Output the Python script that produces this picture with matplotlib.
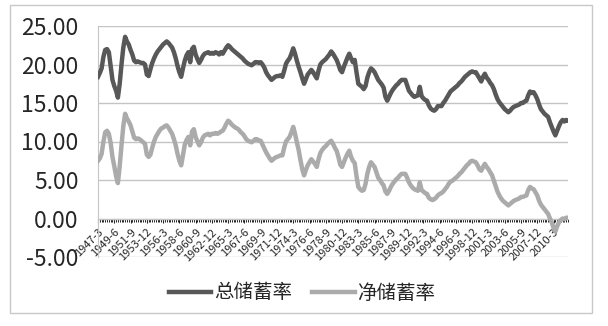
import numpy as np
import matplotlib as mpl
import matplotlib.pyplot as plt
from matplotlib.patches import Rectangle
from matplotlib.ticker import MultipleLocator

# ---------------- data (quarterly, 1947Q1 .. 2012Q1) ----------------
gross = [
    18.4, 18.9, 19.5, 21.0, 21.9, 22.0, 21.6, 19.8, 18.0, 17.2,
    16.6, 15.7, 17.5, 20.0, 22.2, 23.6, 23.0, 22.6, 21.9, 21.3,
    20.5, 20.3, 20.4, 20.3, 20.2, 20.2, 20.0, 18.7, 18.5, 19.4,
    20.2, 20.8, 21.3, 21.7, 22.0, 22.3, 22.6, 22.8, 23.0, 22.8,
    22.5, 22.2, 21.6, 20.8, 19.8, 19.0, 18.4, 19.5, 20.5, 21.2,
    21.6, 20.3, 22.0, 22.3, 21.3, 20.7, 20.2, 20.6, 21.1, 21.4,
    21.5, 21.6, 21.4, 21.5, 21.4, 21.6, 21.5, 21.3, 21.6, 21.4,
    21.8, 22.2, 22.5, 22.3, 22.0, 21.8, 21.6, 21.4, 21.2, 21.0,
    20.8, 20.5, 20.3, 20.1, 20.0, 19.9, 20.1, 20.3, 20.3, 20.2,
    20.3, 20.0, 19.6, 19.0, 18.6, 18.3, 18.0, 18.2, 18.4, 18.5,
    18.5, 18.6, 18.4, 19.2, 20.1, 20.5, 20.8, 21.4, 22.1, 21.4,
    20.5, 19.7, 19.0, 18.2, 17.5, 18.1, 18.7, 19.0, 19.3, 19.0,
    18.6, 18.2, 19.2, 20.0, 20.3, 20.5, 20.7, 21.0, 21.3, 21.7,
    21.4, 21.0, 20.6, 20.0, 19.3, 19.0, 19.7, 20.3, 20.9, 21.4,
    20.8, 20.3, 20.6, 19.0, 17.5, 17.3, 17.1, 16.8, 17.2, 18.3,
    19.0, 19.5, 19.3, 19.0, 18.5, 18.0, 17.7, 17.4, 17.0, 15.8,
    15.3, 15.8, 16.3, 16.7, 17.0, 17.3, 17.5, 17.8, 18.0, 18.0,
    18.0, 17.3, 16.6, 16.3, 16.0, 15.8, 15.9, 16.0, 17.1, 15.9,
    15.6, 15.4, 15.3, 14.7, 14.3, 14.1, 14.0, 14.2, 14.6, 14.6,
    14.6, 15.0, 15.3, 15.7, 16.1, 16.5, 16.7, 16.9, 17.1, 17.3,
    17.6, 17.8, 18.1, 18.4, 18.6, 18.8, 19.0, 19.1, 19.0, 19.0,
    18.6, 18.2, 17.8, 18.4, 18.8, 18.3, 18.0, 17.6, 17.3, 16.8,
    16.1, 15.5, 15.1, 14.8, 14.5, 14.2, 14.0, 13.8, 14.0, 14.3,
    14.5, 14.6, 14.7, 14.8, 15.0, 15.0, 15.2, 15.3, 16.0, 16.5,
    16.3, 16.4, 16.0, 15.5, 14.8, 14.2, 13.9, 13.6, 13.4, 13.2,
    12.5, 11.9, 11.3, 10.8, 11.4, 12.0, 12.5, 12.8, 12.6, 12.8,
    12.7,
]

net = [
    7.5, 7.8, 8.4, 10.0, 11.2, 11.4, 11.0, 9.8, 8.0, 6.8,
    5.5, 4.6, 6.8, 9.5, 12.0, 13.6, 13.0, 12.6, 12.1, 11.3,
    10.5, 10.3, 10.4, 10.3, 10.1, 9.9, 9.7, 8.3, 8.0, 8.3,
    9.2, 10.0, 10.6, 11.0, 11.4, 11.7, 11.8, 12.0, 12.1, 11.8,
    11.4, 11.0, 10.3, 9.5, 8.4, 7.5, 6.9, 8.2, 9.6, 10.2,
    10.6, 9.5, 11.3, 11.6, 10.6, 10.0, 9.5, 9.9, 10.5, 10.8,
    10.9, 11.0, 10.8, 11.0, 11.0, 11.1, 11.0, 11.1, 11.3, 11.4,
    11.8, 12.3, 12.7, 12.5, 12.2, 12.0, 11.8, 11.7, 11.5, 11.2,
    11.0, 10.7, 10.3, 10.1, 10.0, 9.9, 10.1, 10.3, 10.3, 10.1,
    10.1, 9.6, 9.1, 8.6, 8.2, 7.8, 7.5, 7.7, 7.9, 8.0,
    8.1, 8.2, 8.2, 9.2, 10.0, 10.3, 10.6, 11.2, 11.9, 11.0,
    9.9, 8.9, 7.6, 6.4, 5.6, 6.3, 6.9, 7.3, 7.7, 7.4,
    7.1, 6.7, 7.7, 8.5, 8.9, 9.2, 9.4, 9.7, 9.9, 10.1,
    9.7, 9.2, 8.8, 8.0, 7.0, 6.7, 7.3, 7.9, 8.4, 8.8,
    8.0, 7.5, 7.2, 5.5, 4.1, 3.8, 3.6, 3.7, 4.5, 5.8,
    6.7, 7.3, 7.0, 6.7, 6.0, 5.3, 5.0, 4.6, 4.3, 3.5,
    3.2, 3.6, 4.1, 4.5, 4.8, 5.1, 5.3, 5.6, 5.8, 5.8,
    5.8, 5.3, 4.7, 4.3, 4.0, 3.8, 3.7, 3.6, 4.7, 3.7,
    3.5, 3.3, 3.2, 2.7, 2.5, 2.4, 2.5, 2.7, 3.0, 3.2,
    3.3, 3.5, 3.8, 4.1, 4.5, 4.8, 4.9, 5.1, 5.3, 5.5,
    5.8, 6.0, 6.3, 6.6, 6.9, 7.1, 7.4, 7.5, 7.4, 7.3,
    6.9, 6.4, 6.2, 6.7, 7.1, 6.7, 6.4, 6.0, 5.6, 4.9,
    4.2, 3.5, 3.0, 2.6, 2.3, 2.1, 1.9, 1.7, 1.9, 2.1,
    2.3, 2.4, 2.5, 2.6, 2.8, 2.8, 2.9, 3.0, 3.7, 4.1,
    3.9, 3.8, 3.4, 3.0, 2.3, 1.8, 1.5, 1.2, 0.9, 0.6,
    0.0, -0.5, -1.2, -1.7, -1.0, -0.5, -0.2, 0.0, -0.1, 0.1,
    0.1,
]

tick_labels = [
    "1947-3", "1949-6", "1951-9", "1953-12", "1956-3", "1958-6", "1960-9",
    "1962-12", "1965-3", "1967-6", "1969-9", "1971-12", "1974-3", "1976-6",
    "1978-9", "1980-12", "1983-3", "1985-6", "1987-9", "1989-12", "1992-3",
    "1994-6", "1996-9", "1998-12", "2001-3", "2003-6", "2005-9", "2007-12",
    "2010-3",
]
tick_pos = np.arange(len(tick_labels)) * 9
y_ticks = [-5, 0, 5, 10, 15, 20, 25]

# ---------------- style ----------------
mpl.rcParams.update({
    "font.family": ["Noto Sans CJK SC", "DejaVu Sans"],
    "font.weight": "light",
    "axes.unicode_minus": False,
})

GRID = "#c4c4c4"
DARK = "#585858"
LIGHT = "#ababab"
TXT = "#262626"

fig = plt.figure(figsize=(6.08, 3.26), dpi=100)
fig.patches.append(Rectangle((10 / 608, 1 - 313 / 326), 582 / 608, 308 / 326,
                             transform=fig.transFigure, fill=False,
                             edgecolor="#c8c8c8", lw=1.0))

ax = fig.add_axes([98 / 608, 1 - 257 / 326, 470 / 608, 231 / 326])

x = np.arange(len(gross))
l1, = ax.plot(x, gross, color=DARK, lw=3.2, solid_joinstyle="round", zorder=4)
l2, = ax.plot(np.arange(len(net)), net, color=LIGHT, lw=3.2,
              solid_joinstyle="round", zorder=3)

ax.set_xlim(0, len(gross) - 1)
ax.set_ylim(-5, 25)
ax.set_yticks(y_ticks)
ax.set_yticklabels([f"{v:.2f}" for v in y_ticks])
ax.tick_params(axis="y", length=0, pad=14, labelsize=16.5, colors=TXT)

ax.grid(axis="y", color=GRID, lw=1.0, zorder=0)
ax.set_axisbelow(True)

for s in ["top", "right"]:
    ax.spines[s].set_visible(False)
ax.spines["left"].set_color(GRID)
ax.spines["bottom"].set_position(("data", 0))
ax.spines["bottom"].set_color(GRID)

ax.set_xticks(tick_pos)
ax.set_xticklabels(tick_labels, rotation=45, ha="right", va="top",
                   rotation_mode="anchor")
ax.xaxis.set_minor_locator(MultipleLocator(1))
ax.tick_params(axis="x", which="major", length=3, labelsize=8, pad=3,
               colors=TXT)
ax.tick_params(axis="x", which="minor", length=2)
for t in ax.xaxis.get_ticklines(minor=False) + ax.xaxis.get_ticklines(minor=True):
    t.set_color("#a0a0a0")

fig.legend([l1, l2], ["总储蓄率", "净储蓄率"], loc="center",
           bbox_to_anchor=(302 / 608, 1 - 293 / 326), ncol=2, frameon=False,
           fontsize=14, handlelength=2.2, handletextpad=0.15, columnspacing=1.0,
           labelcolor=TXT)

fig.savefig("out.png", dpi=100)
